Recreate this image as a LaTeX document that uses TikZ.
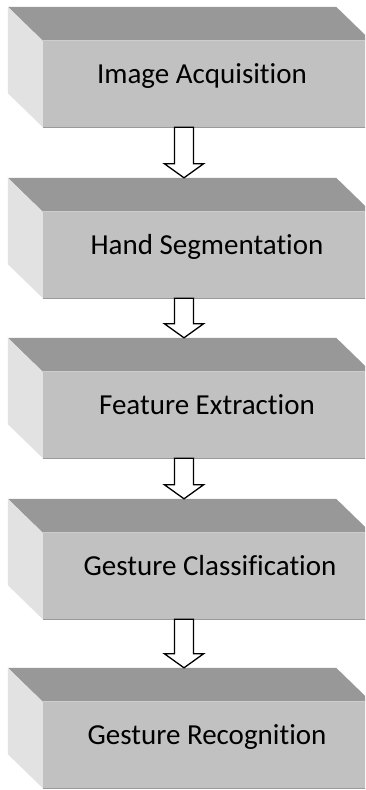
\documentclass[tikz,border=0pt]{standalone}
\usepackage{fontspec}
\setmainfont[Ligatures=NoCommon]{Carlito}
\usetikzlibrary{calc}

\definecolor{frente}{HTML}{C1C1C1}
\definecolor{techo}{HTML}{989898}
\definecolor{lado}{HTML}{E2E2E2}

\begin{document}
\begin{tikzpicture}[
      x=1pt, y=-1pt,
      bloque/.style={fill=frente, inner sep=0pt, font=\fontsize{29}{34}\selectfont,
                     minimum width=328pt, minimum height=86pt,
                     text height=22pt, text depth=24pt},
      cara/.style={fill=#1},
      borde/.style={draw=#1, line width=1pt},
      flecha/.style={draw=black, fill=white, line width=1.3pt, line join=miter}
    ]
    \useasboundingbox (0,0) rectangle (365,790);
    \clip (0,0) rectangle (365,790);

    \node[bloque] (f1) at (207,84)  {\hspace*{-10pt}Image Acquisition};
    \node[bloque] (f2) at (207,255) {Hand Segmentation};
    \node[bloque] (f3) at (207,415) {Feature Extraction};
    \node[bloque] (f4) at (207,576) {\hspace*{6pt}Gesture Classification};
    \node[bloque] (f5) at (207,745) {Gesture Recognition};

    % caras superior e izquierda de cada bloque
    \foreach \b in {f1,f2,f3,f4,f5} {
      \fill[cara=techo] (\b.north west) -- ++(-35,-34)
        -- ([shift={(-35,-34)}]\b.north east) -- (\b.north east) -- cycle;
      \fill[cara=lado] (\b.north west) -- ++(-35,-34)
        -- ([shift={(-35,-34)}]\b.south west) -- (\b.south west) -- cycle;
      \draw[borde=frente!80!white] (\b.north west) -- (\b.north east);
      \draw[borde=frente!80!black] (\b.south west) -- (\b.south east);
    }

    % flechas huecas entre bloques
    \foreach \a/\b in {f1/f2,f2/f3,f3/f4,f4/f5} {
      \coordinate (s) at ([xshift=-23pt]\a.south);
      \coordinate (t) at ([xshift=-23pt, yshift=34pt]\b.north);
      \draw[flecha] ($(s)+(-9.5,0)$) -- ($(t)+(-9.5,-14)$) -- ($(t)+(-19.5,-14)$)
        -- (t) -- ($(t)+(19.5,-14)$) -- ($(t)+(9.5,-14)$) -- ($(s)+(9.5,0)$) -- cycle;
    }
  \end{tikzpicture}
\end{document}
